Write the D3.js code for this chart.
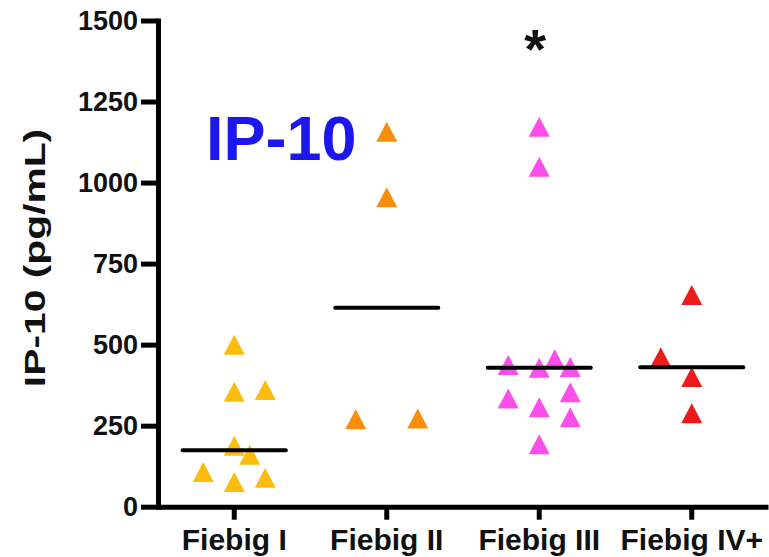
<!DOCTYPE html>
<html>
<head>
<meta charset="utf-8">
<script src="https://cdn.jsdelivr.net/npm/d3@7"></script>
<style>
  html, body { margin: 0; padding: 0; background: #ffffff; }
  svg { display: block; }
  text { font-family: "Liberation Sans", Arial, Helvetica, sans-serif; font-weight: bold; }
</style>
</head>
<body>
<svg id="chart" width="769" height="557"></svg>
<script>
// IP-10 plasma levels by Fiebig stage (pg/mL)
const categories = ["Fiebig I", "Fiebig II", "Fiebig III", "Fiebig IV+"];

const fiebigI   = [500, 355, 360, 188, 160, 107, 76, 89];
const fiebigII  = [1157, 955, 270, 272];
const fiebigIII = [1172, 1049, 437, 429, 455, 431, 334, 307, 353, 276, 193];
const fiebigIV  = [653, 461, 400, 288];

// horizontal spread slot of each point inside its column
const slotsI   = [0, 0, 1, 0, 0.5, -1, 0, 1];
const slotsII  = [0, 0, -1, 1];
const slotsIII = [0, 0, -1, 0, 0.5, 1, -1, 0, 1, 1, 0];
const slotsIV  = [0, -1, 0, 0];

const yTicks = [0, 250, 500, 750, 1000, 1250, 1500];
const groupColors = ["#FCBD0E", "#F98E0D", "#FB4EEA", "#EE1B1B"];

const groups = [
  { name: categories[0], values: fiebigI,   slots: slotsI,   color: groupColors[0] },
  { name: categories[1], values: fiebigII,  slots: slotsII,  color: groupColors[1] },
  { name: categories[2], values: fiebigIII, slots: slotsIII, color: groupColors[2] },
  { name: categories[3], values: fiebigIV,  slots: slotsIV,  color: groupColors[3] }
];

const svg = d3.select("#chart");

const x = d3.scaleBand().domain(categories).range([158, 768]);
const y = d3.scaleLinear().domain([0, 1500]).range([506.7, 20.5]);
const cx = name => x(name) + x.bandwidth() / 2;

const slotWidth = 31;
const markW = 21, markH = 20;
const medianHalf = x.bandwidth() * 0.338;

// upright triangle centred on its bounding box
const triangle = {
  draw(ctx) {
    ctx.moveTo(0, -markH / 2);
    ctx.lineTo(markW / 2, markH / 2);
    ctx.lineTo(-markW / 2, markH / 2);
    ctx.closePath();
  }
};
const sym = d3.symbol().type(triangle);

// points
groups.forEach(g => {
  svg.append("g")
    .selectAll("path")
    .data(g.values.map((v, i) => ({ v, s: g.slots[i] })))
    .join("path")
    .attr("d", sym)
    .attr("transform", d => `translate(${cx(g.name) + d.s * slotWidth},${y(d.v)})`)
    .attr("fill", g.color);
});

// median lines
svg.append("g")
  .selectAll("line")
  .data(groups)
  .join("line")
  .attr("x1", g => cx(g.name) - medianHalf)
  .attr("x2", g => cx(g.name) + medianHalf)
  .attr("y1", g => y(d3.median(g.values)))
  .attr("y2", g => y(d3.median(g.values)))
  .attr("stroke", "#000")
  .attr("stroke-width", 4)
  .attr("stroke-linecap", "round");

// y axis
const yAxis = svg.append("g")
  .attr("transform", "translate(158,0)")
  .call(d3.axisLeft(y).tickValues(yTicks).tickFormat(d3.format("d")).tickSize(17).tickSizeOuter(0).tickPadding(3));
yAxis.select(".domain").attr("stroke-width", 5).attr("stroke-linecap", "square");
yAxis.selectAll(".tick line").attr("stroke-width", 5);
yAxis.selectAll(".tick text").attr("font-size", 27).attr("fill", "#111");

// x axis
const xAxis = svg.append("g")
  .attr("transform", `translate(0,${y(0)})`)
  .call(d3.axisBottom(x).tickSize(13).tickSizeOuter(0).tickPadding(9));
xAxis.select(".domain").attr("stroke-width", 5);
xAxis.selectAll(".tick line").attr("stroke-width", 5);
xAxis.selectAll(".tick text").attr("font-size", 30).attr("fill", "#111");
svg.selectAll("text").attr("font-family", null);

// axis title
svg.append("text")
  .attr("transform", "translate(45,258) rotate(-90) scale(1.36,1)")
  .attr("text-anchor", "middle")
  .attr("font-size", 30)
  .attr("fill", "#111")
  .text("IP-10 (pg/mL)");

// chart label
svg.append("text")
  .attr("x", 206)
  .attr("y", 160)
  .attr("font-size", 63)
  .attr("fill", "#1C17EF")
  .text("IP-10");

// significance mark over Fiebig III
svg.append("text")
  .attr("x", cx(categories[2]) - 4)
  .attr("y", 68)
  .attr("text-anchor", "middle")
  .attr("font-size", 56)
  .attr("fill", "#111")
  .text("*");
</script>
</body>
</html>
